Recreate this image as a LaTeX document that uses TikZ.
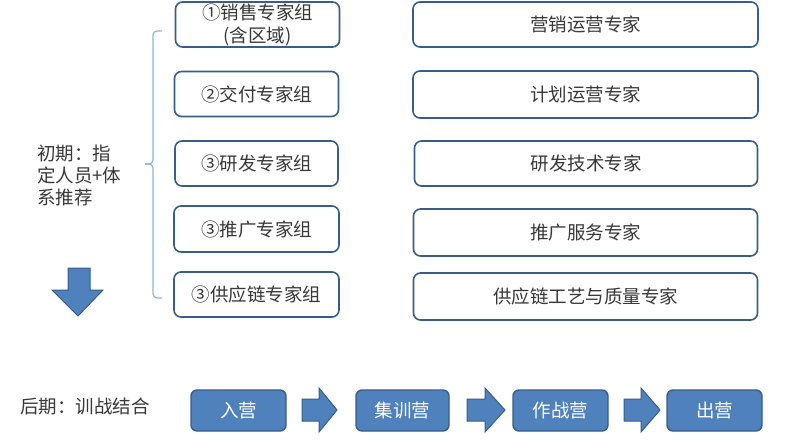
\documentclass[tikz,border=0pt]{standalone}
\usepackage{fontspec}
\setmainfont{Noto Sans CJK SC}
\begin{document}
\begin{tikzpicture}[x=1pt,y=-1pt,
  txt/.style={text=black!78,font=\fontsize{18.5}{23}\selectfont},
  wbox/.style={draw=bdr, line width=1.6pt, rounded corners=7pt, fill=white, txt, inner sep=0pt, align=center},
  bbox/.style={draw=bdr, line width=1.4pt, rounded corners=6pt, fill=bfill, text=white, font=\fontsize{18.5}{23}\selectfont, inner sep=0pt},
  blockarrow/.style={draw=bdr, line width=1pt, fill=bfill},
  brace/.style={draw=bracec, line width=1.2pt, rounded corners=4pt}
]
\definecolor{bdr}{HTML}{385D8A}
\definecolor{bfill}{HTML}{4F81BD}
\definecolor{bracec}{HTML}{8EB4E3}
\useasboundingbox (0,0) rectangle (800,441);
\fill[white] (0,0) rectangle (800,441);

% left group boxes
\node[wbox, minimum width=164pt, minimum height=45pt] (g1) at (257.5,24.5) {①销售专家组\\(含区域)};
\node[wbox, minimum width=164pt, minimum height=45pt] (g2) at (256.5,94) {②交付专家组};
\node[wbox, minimum width=163pt, minimum height=45pt] (g3) at (256.5,163.5) {③研发专家组};
\node[wbox, minimum width=165pt, minimum height=46pt] (g4) at (256.5,229) {③推广专家组};
\node[wbox, minimum width=165pt, minimum height=45pt] (g5) at (256.5,294.5) {③供应链专家组};

% right expert boxes
\node[wbox, minimum width=345pt, minimum height=45pt] (e1) at (585.5,24.5) {营销运营专家};
\node[wbox, minimum width=345pt, minimum height=47pt] (e2) at (585.5,94.5) {计划运营专家};
\node[wbox, minimum width=343pt, minimum height=45pt] (e3) at (586,163.5) {研发技术专家};
\node[wbox, minimum width=344pt, minimum height=47pt] (e4) at (585.5,232.5) {推广服务专家};
\node[wbox, minimum width=344pt, minimum height=47pt] (e5) at (585.5,296.5) {供应链工艺与质量专家};

% bracket
\draw[brace] (162,31) -- (153,31) -- (153,164) -- (145,164);
\draw[brace] (145,164) -- (153,164) -- (153,298) -- (162,298);

% left label
\node[txt, anchor=north west, align=left, inner sep=0pt, font=\fontsize{18.5}{22}\selectfont] (early) at (37,145) {初期：指\\定人员+体\\系推荐};

% down arrow
\draw[blockarrow] (68,268) -- (90,268) -- (90,290) -- (103,290) -- (78,316) -- (52,290) -- (68,290) -- cycle;

% bottom row
\node[txt, anchor=west, inner sep=0pt] (late) at (20,406) {后期：训战结合};
\node[bbox, minimum width=95pt, minimum height=41pt] (s1) at (238.5,410.5) {入营};
\node[bbox, minimum width=93pt, minimum height=41pt] (s2) at (402.5,410.5) {集训营};
\node[bbox, minimum width=95pt, minimum height=41pt] (s3) at (560.5,410.5) {作战营};
\node[bbox, minimum width=95pt, minimum height=41pt] (s4) at (714.5,410.5) {出营};

\draw[blockarrow] (302,399) -- (319,399) -- (319,388) -- (337,410) -- (319,432) -- (319,421) -- (302,421) -- cycle;
\draw[blockarrow] (467,399) -- (485,399) -- (485,388) -- (505,410) -- (485,432) -- (485,421) -- (467,421) -- cycle;
\draw[blockarrow] (624,399) -- (641,399) -- (641,388) -- (660,410) -- (641,432) -- (641,421) -- (624,421) -- cycle;
\end{tikzpicture}
\end{document}
